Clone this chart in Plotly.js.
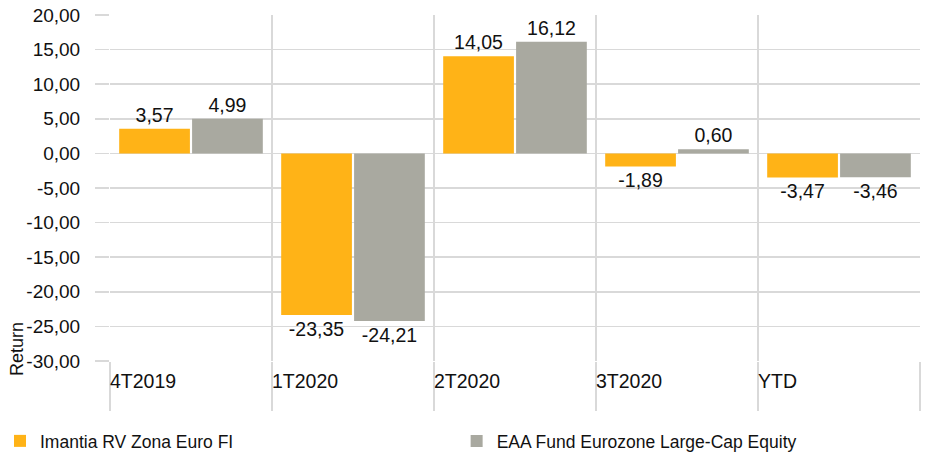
<!DOCTYPE html>
<html><head><meta charset="utf-8">
<script src="https://cdn.plot.ly/plotly-3.0.1.min.js"></script>
<style>html,body{margin:0;padding:0;background:#fff}#c{width:930px;height:459px}</style>
</head><body><div id="c"></div>
<script>
const categories = ["4T2019", "1T2020", "2T2020", "3T2020", "YTD"];
const seriesNames = ["Imantia RV Zona Euro FI", "EAA Fund Eurozone Large-Cap Equity"];
const fundValues = [3.57, -23.35, 14.05, -1.89, -3.47];
const benchmarkValues = [4.99, -24.21, 16.12, 0.60, -3.46];
const yTicks = [-30, -25, -20, -15, -10, -5, 0, 5, 10, 15, 20];
const yTitle = "Return";

const fmt = v => v.toFixed(2).replace(".", ",");
const FONT = "Liberation Sans, Arial, sans-serif";
const GRID = "#d9d9d9";
const INK = "#111111";
const colors = ["#FFB317", "#A9A9A0"];

const mk = (name, vals, color, leg) => ({
  type: "bar", name: name, x: categories, y: vals, legend: leg,
  marker: {color: color, line: {width: 0}},
  text: vals.map(fmt), texttemplate: "%{text}", textposition: "outside",
  textfont: {family: FONT, size: 19.5, color: INK},
  cliponaxis: false, hoverinfo: "skip"
});

const data = [mk(seriesNames[0], fundValues, colors[0], "legend"),
              mk(seriesNames[1], benchmarkValues, colors[1], "legend2")];

const annotations = categories.map((c, i) => ({
  text: c, x: i - 0.5, xref: "x", xanchor: "left", y: 0, yref: "paper",
  yanchor: "middle", yshift: -20, xshift: -2, showarrow: false,
  font: {family: FONT, size: 19.5, color: INK}
}));
annotations.push({
  text: yTitle, textangle: -90, xref: "paper", x: 0, xshift: -93, xanchor: "center",
  yref: "paper", y: 0, yshift: 12, yanchor: "middle", showarrow: false,
  font: {family: FONT, size: 18, color: INK}
});

const legBase = {orientation: "h", xref: "container", yref: "container", y: -0.018,
  xanchor: "left", yanchor: "bottom", itemwidth: 30,
  font: {family: FONT, size: 17.5, color: INK}};

const layout = {
  width: 930, height: 459,
  margin: {l: 110, r: 10, t: 15, b: 98},
  paper_bgcolor: "#fff", plot_bgcolor: "#fff",
  barmode: "group", bargap: 0.1, bargroupgap: 0.03,
  showlegend: true,
  legend: Object.assign({}, legBase, {x: 0}),
  legend2: Object.assign({}, legBase, {x: 0.491}),
  xaxis: {type: "category", showticklabels: false, tickson: "boundaries",
          showgrid: true, gridcolor: GRID, gridwidth: 1.5,
          ticks: "outside", ticklen: 49, tickcolor: GRID, tickwidth: 1.5,
          showline: false, zeroline: false, range: [-0.5, categories.length - 0.5]},
  yaxis: {range: [-30, 20], tickmode: "array", tickvals: yTicks, ticktext: yTicks.map(fmt),
          showgrid: true, gridcolor: GRID, gridwidth: 1.5,
          zeroline: true, zerolinecolor: GRID, zerolinewidth: 1.5,
          ticks: "outside", ticklen: 14, tickcolor: GRID, tickwidth: 1.5,
          ticklabelstandoff: 11,
          tickfont: {family: FONT, size: 19, color: INK}, showline: false},
  annotations: annotations
};

Plotly.newPlot("c", data, layout, {displayModeBar: false, staticPlot: true});
</script></body></html>
